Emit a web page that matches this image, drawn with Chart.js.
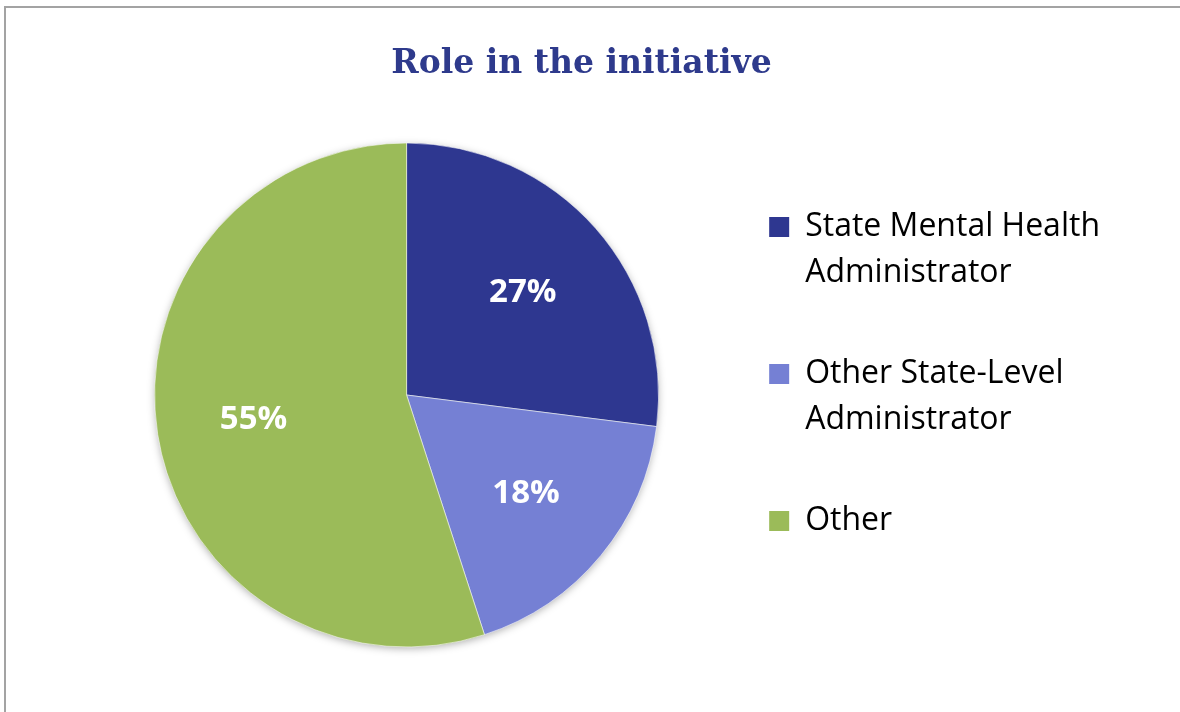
<!DOCTYPE html>
<html>
<head>
<meta charset="utf-8">
<title>Role in the initiative</title>
<script src="https://cdn.jsdelivr.net/npm/chart.js@4.4.1/dist/chart.umd.min.js"></script>
<style>
  html, body { margin: 0; padding: 0; background: #ffffff; overflow: hidden; }
  #frame {
    position: absolute; left: 4px; top: 6px; width: 1220px; height: 740px;
    border-left: 2px solid #a3a3a3; border-top: 2px solid #a3a3a3;
  }
  #wrap { position: absolute; left: 0; top: 0; width: 1180px; height: 712px; }
</style>
</head>
<body>
<div id="frame"></div>
<div id="wrap"><canvas id="chart"></canvas></div>
<script>
// Survey responses: role of respondents in the initiative (percent)
const chartTitle = 'Role in the initiative';
const categories = [
  ['State Mental Health', 'Administrator'],
  ['Other State-Level', 'Administrator'],
  ['Other']
];
const values = [27, 18, 55];
const sliceColors = ['#2E3790', '#7580D4', '#9BBB59'];

// Legend entries: the two-line entries get a trailing empty line as spacing
const legendLines = categories.map((lines, i) => i < categories.length - 1 ? lines.concat(['']) : lines);

// Soft drop shadow under the whole pie, drawn from the arc geometry
const pieShadow = {
  id: 'pieShadow',
  beforeDatasetsDraw(chart) {
    const arc = chart.getDatasetMeta(0).data[0];
    if (!arc) return;
    const { x, y, outerRadius } = arc.getProps(['x', 'y', 'outerRadius'], true);
    const ctx = chart.ctx;
    ctx.save();
    ctx.shadowColor = 'rgba(0,0,0,0.35)';
    ctx.shadowBlur = 8;
    ctx.shadowOffsetX = 0;
    ctx.shadowOffsetY = 2;
    ctx.fillStyle = '#9BBB59';
    ctx.beginPath();
    ctx.arc(x, y, outerRadius - 1, 0, Math.PI * 2);
    ctx.fill();
    ctx.restore();
  }
};

// Percentage labels inside each slice
const sliceLabels = {
  id: 'sliceLabels',
  afterDatasetsDraw(chart) {
    const meta = chart.getDatasetMeta(0);
    const ctx = chart.ctx;
    ctx.save();
    ctx.font = 'bold 33px "Open Sans"';
    ctx.fillStyle = '#ffffff';
    ctx.textAlign = 'center';
    ctx.textBaseline = 'middle';
    meta.data.forEach((arc, i) => {
      const p = arc.getProps(['x', 'y', 'startAngle', 'endAngle', 'outerRadius'], true);
      const mid = (p.startAngle + p.endAngle) / 2;
      const r = p.outerRadius * 0.615;
      ctx.fillText(values[i] + '%', p.x + Math.cos(mid) * r, p.y + Math.sin(mid) * r);
    });
    ctx.restore();
  }
};

new Chart(document.getElementById('chart'), {
  type: 'pie',
  data: {
    labels: categories,
    datasets: [{
      data: values,
      backgroundColor: sliceColors,
      borderColor: 'rgba(255,255,255,0.55)',
      borderWidth: 1,
      radius: 252,
      clip: false
    }]
  },
  options: {
    responsive: true,
    maintainAspectRatio: false,
    devicePixelRatio: 1,
    animation: false,
    layout: { padding: { left: 53, right: 70, top: 0, bottom: 124 } },
    plugins: {
      tooltip: { enabled: false },
      title: {
        display: true,
        text: chartTitle,
        color: '#2E3A8C',
        font: { family: 'DejaVu Serif', weight: 'bold', size: 33, lineHeight: 1.2 },
        padding: { top: 45, bottom: 117.4 }
      },
      legend: {
        display: true,
        position: 'right',
        align: 'start',
        fullSize: false,
        labels: {
          boxWidth: 20,
          boxHeight: 20,
          padding: 9,
          color: '#000000',
          font: { family: 'Open Sans', size: 32, lineHeight: 1.4375 },
          generateLabels(chart) {
            const ds = chart.data.datasets[0];
            return legendLines.map((text, i) => ({
              text,
              fillStyle: ds.backgroundColor[i],
              strokeStyle: ds.backgroundColor[i],
              lineWidth: 0,
              fontColor: '#000000',
              hidden: false,
              index: i
            }));
          }
        }
      }
    }
  },
  plugins: [pieShadow, sliceLabels]
});
</script>
</body>
</html>
